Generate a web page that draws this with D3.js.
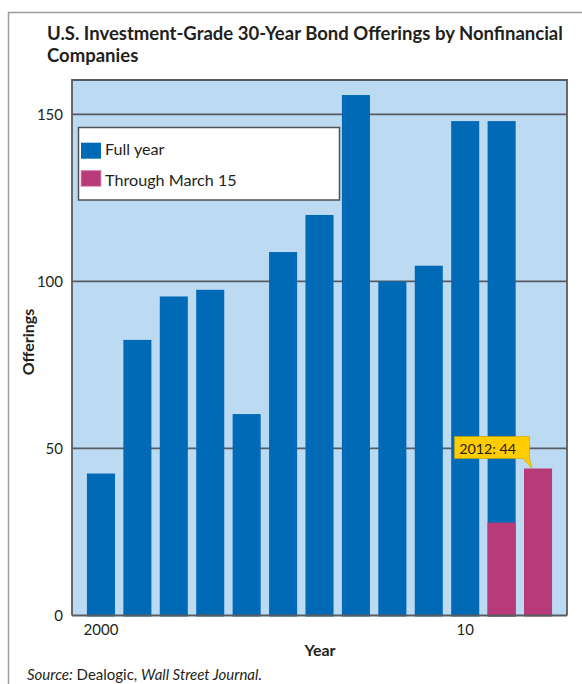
<!DOCTYPE html>
<html>
<head>
<meta charset="utf-8">
<script src="https://cdn.jsdelivr.net/npm/d3@7"></script>
<style>
  html, body { margin: 0; padding: 0; background: #fff; }
  svg { display: block; }
  text { font-family: Lato, "Open Sans", sans-serif; fill: #231f20; }
</style>
</head>
<body>
<svg id="chart" width="582" height="684"></svg>
<script>
// ---- data ----
const years = ["2000","2001","2002","2003","2004","2005","2006","2007","2008","2009","2010","2011","2012"];
const fullYear = [42.5, 82.5, 95.5, 97.5, 60.3, 108.8, 119.9, 155.8, 100, 104.7, 148, 148, null];
const throughMarch15 = [null, null, null, null, null, null, null, null, null, null, null, 27.8, 44];
const yTicks = [0, 50, 100, 150];
const xTickValues = ["2000", "2010"];
const xTickLabels = ["2000", "10"];
const legendLabels = ["Full year", "Through March 15"];
const titleLines = ["U.S. Investment-Grade 30-Year Bond Offerings by Nonfinancial", "Companies"];
const calloutText = "2012: 44";

const BLUE = "#006ab6", PINK = "#b83a78", PLOTBG = "#bcdaf2", GRID = "#575c63";

const svg = d3.select("#chart");
const plot = { left: 72, right: 567, top: 80, bottom: 615.5 };

// outer frame
svg.append("rect").attr("x", 8.5).attr("y", 12.5).attr("width", 620).attr("height", 720)
  .attr("fill", "#fff").attr("stroke", "#9c9c9c").attr("stroke-width", 1.5);

// title
const title = svg.append("g");
titleLines.forEach((t, i) => {
  title.append("text").attr("x", 47).attr("y", 39.5 + i * 22.5)
    .attr("font-weight", 700).attr("font-size", 15).text(t);
});
{
  const w = title.select("text").node().getComputedTextLength();
  const fs = 15 * 516 / w;
  title.selectAll("text").attr("font-size", fs);
}

// scales
const x = d3.scaleBand().domain(years).range([plot.left, plot.right]).paddingInner(0.23).paddingOuter(0.41);
const y = d3.scaleLinear().domain([0, 160.3]).range([plot.bottom, plot.top]);

// plot background
svg.append("rect").attr("x", plot.left).attr("y", plot.top)
  .attr("width", plot.right - plot.left).attr("height", plot.bottom - plot.top)
  .attr("fill", PLOTBG);

// gridlines
svg.append("g").selectAll("line").data(yTicks.filter(d => d > 0)).join("line")
  .attr("x1", plot.left).attr("x2", plot.right)
  .attr("y1", d => y(d)).attr("y2", d => y(d))
  .attr("stroke", GRID).attr("stroke-width", 1.8);

// bars: full year
svg.append("g").selectAll("rect").data(years.map((yr, i) => ({ yr, v: fullYear[i] })).filter(d => d.v != null))
  .join("rect")
  .attr("x", d => x(d.yr)).attr("width", x.bandwidth())
  .attr("y", d => y(d.v)).attr("height", d => y(0) - y(d.v) + 1)
  .attr("fill", BLUE);

// bars: through March 15
svg.append("g").selectAll("rect").data(years.map((yr, i) => ({ yr, v: throughMarch15[i] })).filter(d => d.v != null))
  .join("rect")
  .attr("x", d => x(d.yr)).attr("width", x.bandwidth())
  .attr("y", d => y(d.v)).attr("height", d => y(0) - y(d.v) + 1)
  .attr("fill", PINK);

// plot border (top, right, left)
svg.append("path")
  .attr("d", `M${plot.left},${plot.bottom} V${plot.top} H${plot.right} V${plot.bottom}`)
  .attr("fill", "none").attr("stroke", GRID).attr("stroke-width", 1.8);
// zero line
svg.append("line").attr("x1", plot.left).attr("x2", plot.right)
  .attr("y1", y(0)).attr("y2", y(0)).attr("stroke", GRID).attr("stroke-width", 1.8);

// y axis labels
const yAxis = d3.axisLeft(y).tickValues(yTicks).tickSize(0).tickPadding(9);
const yg = svg.append("g").attr("transform", `translate(${plot.left},0)`).call(yAxis);
yg.select(".domain").remove();
yg.selectAll("text").attr("font-size", 15).attr("font-family", "Lato, sans-serif").attr("fill", "#231f20");

// x axis labels
const xAxis = d3.axisBottom(x).tickValues(xTickValues)
  .tickFormat(d => xTickLabels[xTickValues.indexOf(d)]).tickSize(0).tickPadding(9);
const xg = svg.append("g").attr("transform", `translate(0,${plot.bottom})`).call(xAxis);
xg.select(".domain").remove();
xg.selectAll("text").attr("font-size", 15).attr("font-family", "Lato, sans-serif").attr("fill", "#231f20");

// axis titles
svg.append("text").attr("x", 320).attr("y", 656).attr("text-anchor", "middle")
  .attr("font-weight", 700).attr("font-size", 16).text("Year");
svg.append("text").attr("transform", "translate(34,342) rotate(-90)").attr("text-anchor", "middle")
  .attr("font-weight", 700).attr("font-size", 16).text("Offerings");

// legend
const lg = svg.append("g");
lg.append("rect").attr("x", 78.5).attr("y", 127.5).attr("width", 261).attr("height", 72.5)
  .attr("fill", "#fff").attr("stroke", "#505050").attr("stroke-width", 1.5);
const legColors = [BLUE, PINK];
legendLabels.forEach((lab, i) => {
  lg.append("rect").attr("x", 81).attr("y", 142.7 + i * 27.6).attr("width", 20).attr("height", 16)
    .attr("fill", legColors[i]).attr("stroke", i === 1 ? "#e29cbf" : "none").attr("stroke-width", 0.8);
  lg.append("text").attr("x", 105).attr("y", 155 + i * 31).attr("font-size", 16).text(lab);
});
{
  const t = lg.selectAll("text").nodes()[1];
  const w = t.getComputedTextLength();
  lg.selectAll("text").attr("font-size", 16 * 131.7 / w);
}

// callout
{
  const tipX = x("2012") + 8, tipY = y(44);
  const bx1 = tipX - 2.5, bx0 = bx1 - 75, by1 = tipY - 10, by0 = by1 - 22;
  svg.append("path")
    .attr("d", `M${bx0},${by0} H${bx1} V${by1} L${tipX},${tipY} L${bx1 - 6.5},${by1} H${bx0} Z`)
    .attr("fill", "#ffcc00").attr("stroke", "#c9a200").attr("stroke-width", 0.6);
  const ct = svg.append("text").attr("x", bx0 + 4.7).attr("y", by1 - 5).attr("font-size", 15).text(calloutText);
  const w = ct.node().getComputedTextLength();
  ct.attr("font-size", 15 * 57 / w);
}

// source
{
  const src = svg.append("text").attr("x", 27).attr("y", 680).attr("font-size", 14.5);
  src.append("tspan").attr("font-style", "italic").text("Source:");
  src.append("tspan").text(" Dealogic, ");
  src.append("tspan").attr("font-style", "italic").text("Wall Street Journal.");
  const w = src.node().getComputedTextLength();
  src.attr("font-size", 14.5 * 235 / w);
}
</script>
</body>
</html>
